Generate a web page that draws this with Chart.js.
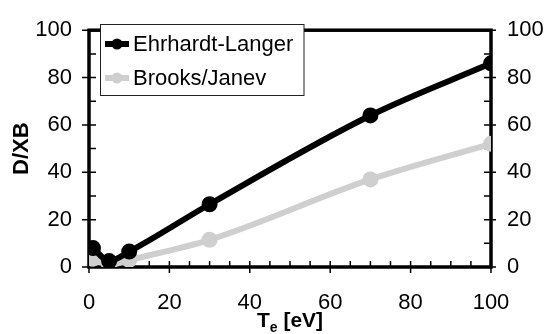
<!DOCTYPE html>
<html>
<head>
<meta charset="utf-8">
<script src="https://cdn.jsdelivr.net/npm/chart.js@4.4.1/dist/chart.umd.min.js"></script>
<style>
  html, body { margin: 0; padding: 0; background: #fff; }
  #wrap { width: 554px; height: 334px; }
</style>
</head>
<body>
<div id="wrap"><canvas id="chart"></canvas></div>
<script>
// electron temperature (eV)
const temps = [1, 5, 10, 30, 70, 100];
const ehrhardtLanger = [8, 2.5, 6.5, 26.5, 64, 86];
const brooksJanev = [3.5, 1, 3, 11.5, 37, 52];
const seriesLabels = ["Ehrhardt-Langer", "Brooks/Janev"];
const xTicks = [0, 20, 40, 60, 80, 100];
const yTicks = [0, 20, 40, 60, 80, 100];

const FONT = "'Liberation Sans', Arial, Helvetica, sans-serif";

function toPoints(ys) {
  return temps.map((t, i) => ({ x: t, y: ys[i] }));
}

// frame + inward/crossing tick marks like the original plot
const framePlugin = {
  id: "frame",
  beforeDatasetsDraw(chart) {
    const { ctx, chartArea: a, scales } = chart;
    ctx.save();
    ctx.strokeStyle = "#000";
    ctx.lineWidth = 1.5;
    for (let v = 0; v <= 100; v += 5) {
      const px = scales.x.getPixelForValue(v);
      const major = v % 20 === 0;
      ctx.beginPath();
      ctx.moveTo(px, a.bottom - 6);
      ctx.lineTo(px, a.bottom + (major ? 6 : 0));
      ctx.stroke();
    }
    for (let v = 0; v <= 100; v += 10) {
      const py = scales.y.getPixelForValue(v);
      const major = v % 20 === 0;
      ctx.beginPath();
      ctx.moveTo(a.left - (major ? 7 : 0), py);
      ctx.lineTo(a.left + 7, py);
      ctx.moveTo(a.right - 7, py);
      ctx.lineTo(a.right + (major ? 5 : 0), py);
      ctx.stroke();
    }
    ctx.lineWidth = 3.5;
    ctx.strokeRect(a.left, a.top, a.right - a.left, a.bottom - a.top);
    ctx.restore();
  },
  afterDraw(chart) {
    const { ctx, chartArea: a } = chart;
    ctx.save();
    // legend box
    const bx = 100.5, by = 24.5, bw = 203.5, bh = 71;
    ctx.fillStyle = "#fff";
    ctx.fillRect(bx, by, bw, bh);
    ctx.strokeStyle = "#222";
    ctx.lineWidth = 1;
    ctx.strokeRect(bx, by, bw, bh);
    const rows = [44, 78];
    chart.data.datasets.forEach((ds, i) => {
      const y = rows[i];
      ctx.strokeStyle = ds.borderColor;
      ctx.fillStyle = ds.borderColor;
      ctx.lineWidth = 6;
      ctx.beginPath();
      ctx.moveTo(105, y);
      ctx.lineTo(129, y);
      ctx.stroke();
      ctx.beginPath();
      ctx.arc(117, y, 5.5, 0, Math.PI * 2);
      ctx.fill();
      ctx.fillStyle = "#000";
      ctx.font = "22px " + FONT;
      ctx.textBaseline = "middle";
      ctx.textAlign = "left";
      ctx.fillText(ds.label, 133, y + 1);
    });
    // x title with subscript
    const big = "bold 21px " + FONT, small = "bold 14px " + FONT;
    ctx.font = big;
    const wT = ctx.measureText("T").width;
    const wRest = ctx.measureText(" [eV]").width;
    ctx.font = small;
    const wE = ctx.measureText("e").width;
    const total = wT + wE + wRest;
    let x0 = (a.left + a.right) / 2 - total / 2;
    const yb = 327;
    ctx.fillStyle = "#000";
    ctx.textAlign = "left";
    ctx.textBaseline = "alphabetic";
    ctx.font = big;
    ctx.fillText("T", x0, yb);
    ctx.font = small;
    ctx.fillText("e", x0 + wT, yb + 5);
    ctx.font = big;
    ctx.fillText(" [eV]", x0 + wT + wE, yb);
    ctx.restore();
  }
};

const tickFont = { family: FONT, size: 22 };

new Chart(document.getElementById("chart"), {
  type: "line",
  data: {
    datasets: [
      {
        label: seriesLabels[0],
        data: toPoints(ehrhardtLanger),
        borderColor: "#000000",
        backgroundColor: "#000000",
        borderWidth: 6,
        pointRadius: 5,
        cubicInterpolationMode: "monotone"
      },
      {
        label: seriesLabels[1],
        data: toPoints(brooksJanev),
        borderColor: "#cfcfcf",
        backgroundColor: "#cfcfcf",
        borderWidth: 6,
        pointRadius: 5,
        cubicInterpolationMode: "monotone"
      }
    ]
  },
  options: {
    responsive: true,
    maintainAspectRatio: false,
    animation: false,
    layout: { padding: { top: 19, left: 0, right: 0, bottom: 0 } },
    plugins: { legend: { display: false }, tooltip: { enabled: false } },
    scales: {
      x: {
        type: "linear",
        min: 0,
        max: 100,
        afterBuildTicks(s) { s.ticks = xTicks.map(v => ({ value: v })); },
        afterFit(s) { s.height = 67; },
        ticks: { font: tickFont, color: "#000", padding: 23, maxRotation: 0 },
        grid: { display: false, drawTicks: false, tickLength: 0 },
        border: { display: false }
      },
      y: {
        position: "left",
        min: 0,
        max: 100,
        afterBuildTicks(s) { s.ticks = yTicks.map(v => ({ value: v })); },
        afterFit(s) { s.width = 89; },
        ticks: { font: tickFont, color: "#000", padding: 17 },
        grid: { display: false, drawTicks: false, tickLength: 0 },
        border: { display: false },
        title: {
          display: true,
          text: "D/XB",
          color: "#000",
          font: { family: FONT, size: 22, weight: "bold" },
          padding: { top: 9, bottom: 0 }
        }
      },
      y2: {
        position: "right",
        min: 0,
        max: 100,
        afterBuildTicks(s) { s.ticks = yTicks.map(v => ({ value: v })); },
        afterFit(s) { s.width = 63; },
        ticks: { font: tickFont, color: "#000", padding: 16 },
        grid: { display: false, drawTicks: false, tickLength: 0 },
        border: { display: false }
      }
    }
  },
  plugins: [framePlugin]
});
</script>
</body>
</html>
